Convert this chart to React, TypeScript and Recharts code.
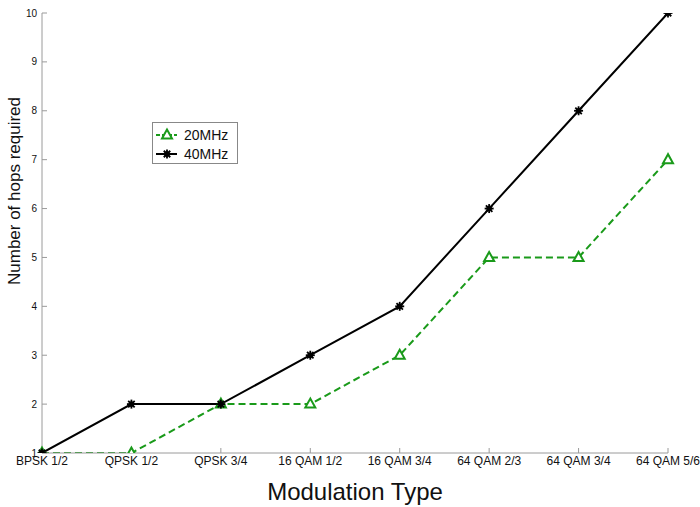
import React from 'react';
import { LineChart, Line, XAxis, YAxis, Legend } from 'recharts';

const categories = ['BPSK 1/2', 'QPSK 1/2', 'QPSK 3/4', '16 QAM 1/2', '16 QAM 3/4', '64 QAM 2/3', '64 QAM 3/4', '64 QAM 5/6'];
const hops20MHz = [1, 1, 2, 2, 3, 5, 5, 7];
const hops40MHz = [1, 2, 2, 3, 4, 6, 8, 10];
const yTicks = [1, 2, 3, 4, 5, 6, 7, 8, 9, 10];

const data = categories.map((c, i) => ({ name: c, mhz20: hops20MHz[i], mhz40: hops40MHz[i] }));

const GREEN = '#1a9a1a';
const AXIS = '#9a9a9a';
const FONT = 'Liberation Sans, Arial, sans-serif';

const StarDot = (props: any) => {
  const { cx, cy } = props;
  if (cx == null || cy == null) return null;
  const r = 4.5;
  const d = r * 0.72;
  return (
    <g>
      <line x1={cx - r} y1={cy} x2={cx + r} y2={cy} stroke="#000" strokeWidth={1.8} />
      <line x1={cx} y1={cy - r} x2={cx} y2={cy + r} stroke="#000" strokeWidth={1.8} />
      <line x1={cx - d} y1={cy - d} x2={cx + d} y2={cy + d} stroke="#000" strokeWidth={1.8} />
      <line x1={cx - d} y1={cy + d} x2={cx + d} y2={cy - d} stroke="#000" strokeWidth={1.8} />
      <circle cx={cx} cy={cy} r={2.8} fill="#000" />
    </g>
  );
};

const TriDot = (props: any) => {
  const { cx, cy } = props;
  if (cx == null || cy == null) return null;
  const pts = `${cx},${cy - 5.5} ${cx - 5},${cy + 3.5} ${cx + 5},${cy + 3.5}`;
  return <polygon points={pts} fill="#fff" stroke={GREEN} strokeWidth={2} />;
};

const LegendBox = () => (
  <div
    style={{
      border: '1px solid #888',
      background: '#fff',
      width: 84,
      height: 40,
      boxSizing: 'content-box',
      fontFamily: FONT,
      fontSize: 14,
      color: '#111',
      position: 'relative',
    }}
  >
    <svg width={84} height={40} style={{ position: 'absolute', left: 0, top: 0 }}>
      <line x1={3} y1={12} x2={24} y2={12} stroke={GREEN} strokeWidth={2} strokeDasharray="4 2" />
      <TriDot cx={14} cy={12} />
      <line x1={3} y1={31} x2={24} y2={31} stroke="#000" strokeWidth={2} />
      <StarDot cx={14} cy={31} />
      <text x={31} y={17} fontFamily={FONT} fontSize={14} fill="#111">20MHz</text>
      <text x={31} y={36} fontFamily={FONT} fontSize={14} fill="#111">40MHz</text>
    </svg>
  </div>
);

export default function App() {
  return (
    <div style={{ position: 'absolute', left: 0, top: 0, width: 700, height: 507, background: '#fff' }}>
      <LineChart width={700} height={507} data={data} margin={{ top: 13, right: 32, bottom: 0, left: 0 }}>
        <XAxis
          dataKey="name"
          height={54}
          interval={0}
          stroke={AXIS}
          tickSize={-5}
          tickMargin={8}
          tick={{ fontSize: 12, fill: '#111', fontFamily: FONT }}
          label={{
            content: () => (
              <text x={355} y={500} textAnchor="middle" fontFamily={FONT} fontSize={24} fill="#111">
                Modulation Type
              </text>
            ),
          }}
        />
        <YAxis
          type="number"
          domain={[1, 10]}
          ticks={yTicks}
          width={42}
          stroke={AXIS}
          tickSize={-5}
          tickMargin={10}
          allowDataOverflow
          tick={{ fontSize: 10, fill: '#111', fontFamily: FONT }}
          label={{
            content: () => (
              <text
                x={20}
                y={191}
                transform="rotate(-90, 20, 191)"
                textAnchor="middle"
                fontFamily={FONT}
                fontSize={17}
                fill="#111"
              >
                Number of hops required
              </text>
            ),
          }}
        />
        <Legend
          layout="vertical"
          align="center"
          verticalAlign="middle"
          content={() => <LegendBox />}
          wrapperStyle={{ position: 'absolute', left: 152, top: 122, width: 86, height: 42 }}
        />
        <Line
          type="linear"
          dataKey="mhz20"
          name="20MHz"
          stroke={GREEN}
          strokeWidth={2}
          strokeDasharray="7 4"
          dot={<TriDot />}
          activeDot={false}
          isAnimationActive={false}
        />
        <Line
          type="linear"
          dataKey="mhz40"
          name="40MHz"
          stroke="#000"
          strokeWidth={2}
          dot={<StarDot />}
          activeDot={false}
          isAnimationActive={false}
        />
      </LineChart>
    </div>
  );
}
